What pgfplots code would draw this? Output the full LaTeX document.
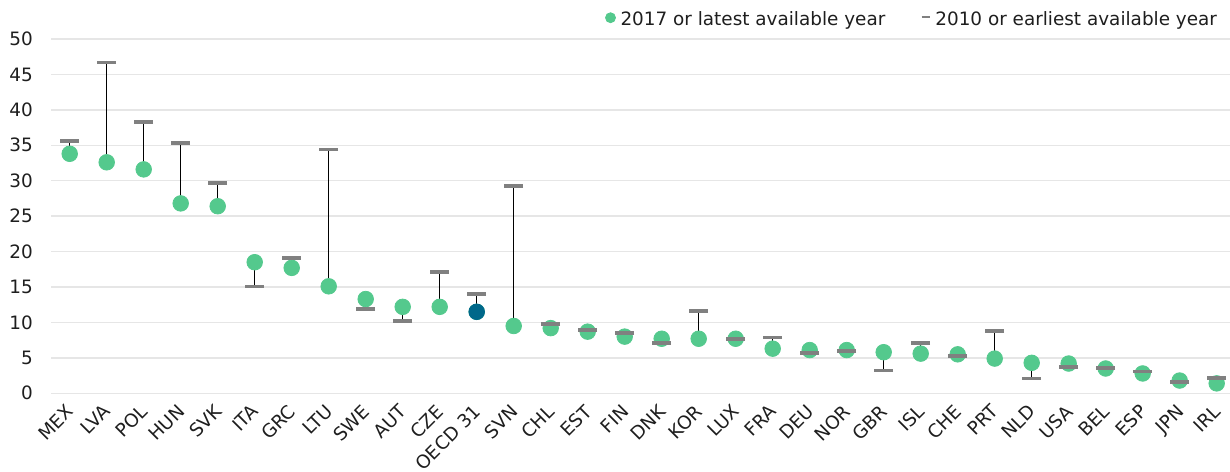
\documentclass[border=0pt]{standalone}
\usepackage{fontspec}
\setmainfont{DejaVu Sans}
\usepackage{pgfplots}
\pgfplotsset{compat=1.18}
\usepackage{pgfplotstable}
\definecolor{dotgreen}{RGB}{84,201,141}
\definecolor{oecdblue}{RGB}{0,104,138}
\definecolor{dashgray}{RGB}{128,128,128}
\definecolor{gridgray}{RGB}{230,230,230}
\definecolor{txt}{RGB}{30,30,30}

\pgfplotstableread{
x y17 y10
0 33.8 35.6
1 32.6 46.7
2 31.6 38.3
3 26.8 35.3
4 26.4 29.7
5 18.5 15.1
6 17.7 19.1
7 15.1 34.4
8 13.3 11.9
9 12.2 10.2
10 12.2 17.1
11 11.5 14.0
12 9.5 29.25
13 9.2 9.8
14 8.7 8.9
15 8.0 8.5
16 7.7 7.1
17 7.7 11.6
18 7.7 7.7
19 6.3 7.9
20 6.1 5.7
21 6.1 6.0
22 5.8 3.2
23 5.6 7.1
24 5.5 5.3
25 4.9 8.8
26 4.3 2.1
27 4.2 3.75
28 3.5 3.6
29 2.8 3.05
30 1.8 1.6
31 1.4 2.2
}\data

\begin{document}
\begin{tikzpicture}[font=\fontsize{9.2}{11}\selectfont, text=txt]
\useasboundingbox (0,0) rectangle (615pt,235.5pt);
\begin{axis}[
  at={(25.6pt,38.85pt)}, anchor=south west,
  scale only axis, width=589.4pt, height=177.15pt,
  xmin=-0.5, xmax=31.36, ymin=0, ymax=50,
  ytick={0,5,...,50},
  xtick={0,...,31},
  xticklabels={MEX,LVA,POL,HUN,SVK,ITA,GRC,LTU,SWE,AUT,CZE,OECD 31,SVN,CHL,EST,FIN,DNK,KOR,LUX,FRA,DEU,NOR,GBR,ISL,CHE,PRT,NLD,USA,BEL,ESP,JPN,IRL},
  axis line style={draw=none},
  major tick length=0pt,
  ymajorgrids, grid style={gridgray, line width=0.75pt},
  yticklabel style={inner sep=0pt, xshift=-9pt},
  xticklabel style={inner sep=0pt, xshift=-2.2pt, yshift=-4.8pt, rotate=45, anchor=north east},
  /pgf/number format/assume math mode=true,
  clip=false,
  legend cell align=left,
  legend columns=2,
  legend style={draw=none, fill=none, inner sep=0pt, outer sep=0pt,
    at={(0.989,1.053)}, anchor=east,
    nodes={inner sep=0pt, text=txt},
    /tikz/every odd column/.append style={column sep=2.3pt},
    /tikz/every even column/.append style={column sep=17.6pt}},
]
\addlegendimage{legend image code/.code={\fill[dotgreen] (2.5pt,1.25pt) circle (2.5pt);}}
\addlegendentry{2017 or latest available year}
\addlegendimage{legend image code/.code={\draw[dashgray, line width=1.1pt] (0,1.75pt) -- (4pt,1.75pt);}}
\addlegendentry{2010 or earliest available year}

\addplot[only marks, mark=none, forget plot,
  error bars/.cd, y dir=both, y explicit, error mark=none,
  error bar style={black, solid, line width=0.5pt}]
  table[x=x, y=y17,
    y error plus expr={max(\thisrow{y10}-\thisrow{y17},0)},
    y error minus expr={max(\thisrow{y17}-\thisrow{y10},0)}] {\data};

\addplot[dotgreen, only marks, mark=*, mark size=3.9pt, mark options={draw=none, fill=dotgreen}, forget plot]
  table[x=x, y=y17] {\data};
\addplot[oecdblue, only marks, mark=*, mark size=3.9pt, mark options={draw=none, fill=oecdblue}, forget plot]
  coordinates {(11,11.5)};
\addplot[dashgray, only marks, mark=-, mark size=4.75pt, mark options={draw=dashgray, line width=1.8pt}, forget plot]
  table[x=x, y=y10] {\data};
\end{axis}
\end{tikzpicture}
\end{document}
